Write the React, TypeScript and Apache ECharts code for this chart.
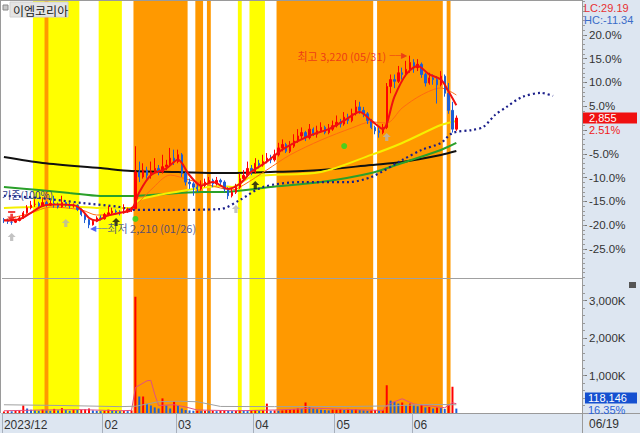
import React, { useEffect, useRef } from "react";
import * as echarts from "echarts";

const TITLE = "이엠코리아";
const LEAD_LABEL = "기준(100%)";
const BASE_PRICE = 2785;
const LOW_PRICE = 2210;
const HIGH_PRICE = 3220;
const LOW_IDX = 22;
const HIGH_IDX = 105;
const VOL_RATIO_TEXT = "16.35%";

const DAYS_BY_MONTH: [string, number[]][] = [
  ["12", [22, 26, 27, 28]],
  ["01", [2, 3, 4, 5, 8, 9, 10, 11, 12, 15, 16, 17, 18, 19, 22, 23, 24, 25, 26, 29, 30, 31]],
  ["02", [1, 2, 5, 6, 7, 8, 13, 14, 15, 16, 19, 20, 21, 22, 23, 26, 27, 28, 29]],
  ["03", [4, 5, 6, 7, 8, 11, 12, 13, 14, 15, 18, 19, 20, 21, 22, 25, 26, 27, 28, 29]],
  ["04", [1, 2, 3, 4, 5, 8, 9, 11, 12, 15, 16, 17, 18, 19, 22, 23, 24, 25, 26, 29, 30]],
  ["05", [2, 3, 7, 8, 9, 10, 13, 14, 16, 17, 20, 21, 22, 23, 24, 27, 28, 29, 30, 31]],
  ["06", [3, 4, 5, 7, 10, 11, 12, 13, 14, 17, 18, 19]],
];
const FUTURE_SLOTS = 32;
const MONTH_LABELS: [number, string][] = [
  [0, "2023/12"], [26, "02"], [45, "03"], [65, "04"], [86, "05"], [106, "06"],
];
const LAST_DATE_LABEL = "06/19";

// [start, end, kind]  0 = yellow, 1 = orange
const BANDS: number[][] = [
  [8, 19, 0], [11, 11, 1], [25, 30, 0], [34, 47, 1], [50, 51, 1], [53, 53, 1],
  [61, 61, 0], [64, 67, 0], [71, 95, 1], [97, 113, 1], [115, 115, 1],
];

// [open, close, low, high]
const CANDLES: number[][] = [
  [2260, 2255, 2240, 2270], [2255, 2250, 2235, 2265], [2245, 2245, 2230, 2260], [2245, 2255, 2240, 2265],
  [2255, 2270, 2250, 2280], [2270, 2300, 2265, 2310], [2300, 2330, 2295, 2345], [2330, 2345, 2320, 2370],
  [2350, 2350, 2335, 2380], [2355, 2340, 2330, 2365], [2340, 2360, 2335, 2390], [2360, 2345, 2335, 2370],
  [2345, 2355, 2340, 2375], [2355, 2350, 2330, 2400], [2350, 2335, 2325, 2360], [2335, 2360, 2330, 2400],
  [2360, 2345, 2335, 2370], [2345, 2340, 2325, 2360], [2340, 2345, 2330, 2355], [2345, 2320, 2310, 2350],
  [2320, 2290, 2280, 2325], [2290, 2260, 2240, 2295], [2260, 2230, 2210, 2265], [2230, 2250, 2225, 2260],
  [2250, 2270, 2245, 2280], [2270, 2265, 2255, 2285], [2265, 2290, 2260, 2300], [2290, 2300, 2280, 2340],
  [2300, 2310, 2290, 2330], [2310, 2305, 2290, 2320], [2305, 2300, 2285, 2315], [2300, 2310, 2295, 2350],
  [2310, 2320, 2300, 2330], [2320, 2325, 2305, 2335], [2325, 2540, 2320, 2690], [2540, 2510, 2480, 2600],
  [2510, 2550, 2500, 2590], [2550, 2520, 2500, 2570], [2520, 2540, 2500, 2600], [2540, 2560, 2530, 2620],
  [2560, 2540, 2520, 2580], [2540, 2570, 2530, 2640], [2570, 2580, 2550, 2610], [2580, 2620, 2570, 2680],
  [2620, 2600, 2580, 2670], [2600, 2640, 2590, 2670], [2640, 2530, 2510, 2650], [2530, 2480, 2460, 2540],
  [2480, 2470, 2440, 2500], [2470, 2450, 2400, 2480], [2450, 2440, 2420, 2470], [2440, 2460, 2430, 2490],
  [2460, 2480, 2450, 2500], [2480, 2490, 2470, 2510], [2490, 2470, 2450, 2500], [2470, 2490, 2460, 2510],
  [2490, 2480, 2460, 2500], [2480, 2440, 2420, 2490], [2440, 2400, 2380, 2450], [2400, 2420, 2390, 2440],
  [2420, 2450, 2410, 2470], [2450, 2500, 2440, 2530], [2500, 2520, 2490, 2550], [2520, 2560, 2510, 2600],
  [2560, 2540, 2520, 2580], [2540, 2590, 2530, 2620], [2590, 2580, 2560, 2610], [2580, 2600, 2570, 2640],
  [2600, 2620, 2590, 2650], [2620, 2610, 2590, 2640], [2610, 2640, 2600, 2670], [2640, 2680, 2630, 2710],
  [2680, 2700, 2660, 2730], [2700, 2660, 2650, 2710], [2660, 2690, 2650, 2720], [2690, 2720, 2680, 2760],
  [2720, 2750, 2710, 2790], [2750, 2770, 2730, 2800], [2770, 2740, 2720, 2780], [2740, 2790, 2730, 2820],
  [2790, 2760, 2750, 2800], [2760, 2780, 2740, 2810], [2780, 2800, 2770, 2830], [2800, 2770, 2760, 2810],
  [2770, 2790, 2760, 2820], [2790, 2810, 2780, 2840], [2810, 2830, 2800, 2870], [2830, 2820, 2800, 2850],
  [2820, 2860, 2810, 2890], [2860, 2840, 2820, 2880], [2840, 2880, 2830, 2910], [2880, 2920, 2870, 2960],
  [2920, 2900, 2880, 2950], [2900, 2880, 2860, 2920], [2880, 2840, 2820, 2890], [2840, 2800, 2790, 2850],
  [2800, 2780, 2760, 2810], [2780, 2770, 2740, 2800], [2770, 2800, 2760, 2820], [2800, 3040, 2790, 3060],
  [3040, 3080, 3000, 3110], [3080, 3070, 3030, 3110], [3070, 3120, 3060, 3160], [3120, 3110, 3080, 3150],
  [3110, 3140, 3100, 3190], [3140, 3180, 3120, 3220], [3180, 3150, 3120, 3200], [3150, 3170, 3130, 3200],
  [3170, 3110, 3090, 3180], [3110, 3060, 3040, 3120], [3060, 3090, 3050, 3120], [3090, 3080, 3050, 3110],
  [3080, 3050, 2940, 3100], [3050, 3100, 3040, 3130], [3100, 3000, 2980, 3110], [3000, 2900, 2880, 3060],
  [2900, 2790, 2770, 2950], [2790, 2855, 2780, 2870],
];

// volume in thousands of shares
const VOLUME_K: number[] = [
  40, 50, 45, 60, 80, 200, 120, 90, 70, 60, 90, 70, 60, 110, 70, 130, 80, 60, 90, 80,
  90, 100, 120, 70, 60, 50, 60, 90, 70, 60, 50, 60, 50, 70, 3100, 440, 440, 250, 200, 150,
  120, 390, 200, 120, 300, 200, 120, 80, 70, 60, 60, 50, 60, 50, 60, 50, 60, 70, 60, 50,
  60, 70, 60, 50, 70, 80, 60, 70, 250, 60, 70, 60, 70, 80, 90, 100, 120, 110, 280, 150,
  120, 100, 90, 80, 70, 90, 90, 100, 80, 110, 90, 100, 80, 70, 60, 70, 80, 60, 70, 740,
  330, 300, 250, 280, 200, 250, 200, 180, 220, 150, 160, 120, 150, 130, 110, 240, 700, 118.146,
];

// moving averages: [slot index, price]
const MA5: number[][] = [
  [0, 2255], [4, 2262], [7, 2300], [10, 2340], [14, 2348], [18, 2345], [20, 2320], [22, 2270], [24, 2255],
  [27, 2285], [30, 2300], [33, 2318], [35, 2420], [38, 2520], [42, 2560], [45, 2610], [48, 2520], [51, 2460],
  [54, 2480], [58, 2440], [61, 2470], [64, 2540], [68, 2600], [72, 2670], [76, 2720], [80, 2760], [84, 2790],
  [88, 2840], [92, 2890], [95, 2840], [98, 2790], [101, 2980], [104, 3110], [107, 3160], [110, 3110],
  [113, 3080], [115, 3010], [117, 2930],
];
const MA10: number[][] = [
  [0, 2258], [7, 2299], [12, 2334], [20, 2317], [24, 2287], [30, 2299], [34, 2346], [38, 2434], [43, 2521],
  [48, 2492], [53, 2463], [59, 2434], [62, 2463], [68, 2551], [74, 2639], [82, 2726], [90, 2797], [95, 2832],
  [99, 2826], [103, 2914], [108, 2990], [113, 3031], [117, 2990],
];
const MA20: number[][] = [
  [0, 2328], [9, 2334], [20, 2334], [25, 2328], [33, 2328], [35, 2375], [40, 2404], [51, 2445], [56, 2457],
  [59, 2451], [64, 2510], [82, 2539], [95, 2639], [103, 2709], [113, 2814], [117, 2838],
];
const MA60: number[][] = [
  [0, 2451], [9, 2434], [17, 2416], [25, 2399], [33, 2399], [38, 2404], [51, 2422], [56, 2422], [69, 2451],
  [82, 2480], [95, 2533], [103, 2592], [113, 2668], [117, 2709],
];
const MA120: number[][] = [
  [0, 2627], [10, 2592], [25, 2562], [33, 2545], [45, 2539], [56, 2533], [69, 2539], [82, 2551], [95, 2580],
  [103, 2598], [113, 2639], [117, 2662],
];
const LEAD_SPAN: number[][] = [
  [0, 2400], [9, 2387], [20, 2358], [30, 2334], [33, 2317], [42, 2317], [56, 2322], [61, 2375], [67, 2451],
  [77, 2480], [89, 2480], [95, 2510], [103, 2609], [108, 2668], [113, 2709], [116, 2767], [121, 2785],
  [124, 2803], [127, 2873], [130, 2920], [134, 2978], [139, 3002], [142, 2984],
];
const VOL_MA5: number[][] = [
  [0, 60], [10, 80], [20, 90], [30, 60], [33, 70], [34, 680], [37, 860], [38, 870], [39, 500], [40, 200],
  [44, 220], [47, 160], [50, 80], [60, 60], [70, 80], [75, 100], [80, 130], [90, 90], [98, 70], [99, 200],
  [100, 260], [103, 380], [106, 240], [110, 190], [114, 140], [116, 270], [117, 250],
];
const VOL_MA20: number[][] = [
  [0, 220], [15, 200], [30, 170], [34, 180], [40, 300], [45, 315], [50, 300], [56, 175], [70, 170], [90, 175],
  [100, 190], [110, 230], [117, 220],
];

// signal markers: [slot index, price]
const GRAY_UP: number[][] = [[2, 2158], [16, 2240], [60, 2322], [99, 2744]];
const BLACK_UP: number[][] = [[29, 2246], [65, 2463]];
const GREEN_DOT: number[][] = [[34, 2264], [88, 2691]];
const RED_DOWN: number[][] = [[2, 2281]];

const UP_RED = "#ff0000";
const DOWN_BLUE = "#1f5fd6";
const BAND_COLORS = ["#ffff00", "#ff9900"];
const PANEL = "#dde6f1";
const NUM_FONT = "'Liberation Sans Narrow', 'Liberation Sans', sans-serif";
const KR_FONT = "'Noto Sans CJK KR', sans-serif";

const fmtInt = (v: number) => Math.round(v).toLocaleString("en-US");

export default function App() {
  const ref = useRef<HTMLDivElement>(null);

  useEffect(() => {
    if (!ref.current) return;
    const chart = echarts.init(ref.current, null, { renderer: "svg" });

    const categories: string[] = [];
    DAYS_BY_MONTH.forEach(([m, days]) => days.forEach((d) => categories.push(m + "/" + String(d).padStart(2, "0"))));
    for (let i = 0; i < FUTURE_SLOTS; i++) categories.push("+" + (i + 1));

    const lastClose = CANDLES[CANDLES.length - 1][1];
    const lastVol = VOLUME_K[VOLUME_K.length - 1];
    const pct = (p: number) => (p / BASE_PRICE - 1) * 100;
    const pMin = BASE_PRICE * (1 - 0.3112);
    const pMax = BASE_PRICE * (1 + 0.2712);
    const majorPct = [-25, -20, -15, -10, -5, 0, 5, 10, 15, 20];
    const labelPct = majorPct.filter((k) => k !== 0);
    const minorPct: number[] = [];
    for (let k = -31; k <= 27; k++) minorPct.push(BASE_PRICE * (1 + k / 100));
    const volMax = 3520;
    const volMinor: number[] = [];
    for (let v = 200; v <= 3400; v += 200) volMinor.push(v);
    const monthIdx = MONTH_LABELS.map((m) => m[0]);
    const monthText: Record<number, string> = {};
    MONTH_LABELS.forEach(([i, t]) => (monthText[i] = t));

    const lc = ((lastClose / LOW_PRICE - 1) * 100).toFixed(2);
    const hc = ((lastClose / HIGH_PRICE - 1) * 100).toFixed(2);

    const line = (name: string, data: number[][], color: string, width: number, z = 4, extra: any = {}) => ({
      name, type: "line", xAxisIndex: 1, yAxisIndex: 1, data, showSymbol: false, smooth: 0.3, z,
      lineStyle: { color, width, ...extra }, silent: true,
    });

    const upArrow = "path://M5 0 L10 5 L7 5 L7 10 L3 10 L3 5 L0 5 Z";
    const downArrow = "path://M1 0 L9 0 L9 2 L1 2 Z M3.5 3 L6.5 3 L6.5 6 L10 6 L5 11 L0 6 L3.5 6 Z";

    const baseGraphic: any[] = [
      { id: "bgR", type: "rect", z: -10, silent: true, shape: { x: 582, y: 0, width: 58, height: 433 }, style: { fill: PANEL } },
      { id: "bgB", type: "rect", z: -10, silent: true, shape: { x: 0, y: 413, width: 582, height: 20 }, style: { fill: PANEL } },
      { id: "bL", type: "line", z: 50, silent: true, shape: { x1: 0.5, y1: 0, x2: 0.5, y2: 413 }, style: { stroke: "#9a9a9a", lineWidth: 1 } },
      { id: "bT", type: "line", z: 50, silent: true, shape: { x1: 0, y1: 0.5, x2: 582, y2: 0.5 }, style: { stroke: "#9a9a9a", lineWidth: 1 } },
      { id: "sep", type: "line", z: 50, silent: true, shape: { x1: 2, y1: 278.5, x2: 582, y2: 278.5 }, style: { stroke: "#a0a0a0", lineWidth: 1 } },
      { id: "bR", type: "line", z: 50, silent: true, shape: { x1: 582.5, y1: 0, x2: 582.5, y2: 433 }, style: { stroke: "#9a9a9a", lineWidth: 1 } },
      { id: "bRB", type: "line", z: 50, silent: true, shape: { x1: 582, y1: 413.5, x2: 640, y2: 413.5 }, style: { stroke: "#9a9a9a", lineWidth: 1 } },
      { id: "ico", type: "rect", z: 50, silent: true, shape: { x: 3, y: 5, width: 5, height: 5 }, style: { fill: "#c8c8c8", stroke: "#888", lineWidth: 1 } },
      { id: "tbox", type: "rect", z: 50, silent: true, shape: { x: 10, y: 2, width: 58, height: 15 }, style: { fill: "#e4e4e4", stroke: "#d0d0d0", lineWidth: 1 } },
      { id: "title", type: "text", z: 51, silent: true, x: 13, y: 10, style: { text: TITLE, fill: "#222", font: "12px " + KR_FONT, verticalAlign: "middle" } },
      { id: "lc", type: "text", z: 51, silent: true, x: 584, y: 8, style: { text: "LC:" + lc, fill: "#e83030", font: "11px " + NUM_FONT, verticalAlign: "middle" } },
      { id: "hc", type: "text", z: 51, silent: true, x: 584, y: 20, style: { text: "HC:" + hc, fill: "#3a6cc8", font: "11px " + NUM_FONT, verticalAlign: "middle" } },
      { id: "date", type: "text", z: 51, silent: true, x: 589, y: 424, style: { text: LAST_DATE_LABEL, fill: "#333", font: "12px " + NUM_FONT, verticalAlign: "middle" } },
      { id: "ico2", type: "rect", z: 51, silent: true, shape: { x: 629, y: 282, width: 7, height: 6 }, style: { fill: "#555" } },
    ];

    const option: any = {
      animation: false,
      backgroundColor: "#ffffff",
      grid: [
        { left: 2, right: 58, top: 1, height: 412 },
        { left: 2, right: 58, top: 1, height: 277 },
        { left: 2, right: 58, top: 281, height: 132 },
      ],
      xAxis: [
        { gridIndex: 0, type: "category", data: categories, show: false },
        { gridIndex: 1, type: "category", data: categories, show: false },
        {
          gridIndex: 2, type: "category", data: categories,
          axisLine: { show: true, lineStyle: { color: "#9a9a9a", width: 1 } },
          axisTick: { show: true, interval: (i: number) => monthIdx.includes(i), length: 20, lineStyle: { color: "#a8b0bc" } },
          axisLabel: {
            interval: (i: number) => monthIdx.includes(i),
            formatter: (_v: string, i: number) => monthText[i] ?? "",
            align: "left", margin: 6, color: "#333", fontSize: 12, fontFamily: NUM_FONT,
          },
        },
      ],
      yAxis: [
        { gridIndex: 0, type: "value", min: 0, max: 1, show: false },
        {
          gridIndex: 1, type: "value", position: "right", min: pMin, max: pMax,
          splitLine: { show: false },
          axisLine: { show: true, lineStyle: { color: "#9a9a9a" } },
          axisTick: { show: true, customValues: majorPct.map((k) => BASE_PRICE * (1 + k / 100)), length: 5, lineStyle: { color: "#777" } },
          axisLabel: {
            customValues: labelPct.map((k) => BASE_PRICE * (1 + k / 100)),
            formatter: (v: number) => pct(v).toFixed(1) + "%",
            margin: 7, color: "#333", fontSize: 11.5, fontFamily: NUM_FONT,
          },
        },
        {
          gridIndex: 1, type: "value", position: "right", min: pMin, max: pMax,
          splitLine: { show: false }, axisLine: { show: false }, axisLabel: { show: false },
          axisTick: { show: true, customValues: minorPct, length: 3, lineStyle: { color: "#999" } },
        },
        {
          gridIndex: 2, type: "value", position: "right", min: 0, max: volMax,
          splitLine: { show: false },
          axisLine: { show: true, lineStyle: { color: "#9a9a9a" } },
          axisTick: { show: true, customValues: [1000, 2000, 3000], length: 5, lineStyle: { color: "#777" } },
          axisLabel: {
            customValues: [1000, 2000, 3000],
            formatter: (v: number) => fmtInt(v) + "K",
            margin: 7, color: "#333", fontSize: 11.5, fontFamily: NUM_FONT,
          },
        },
        {
          gridIndex: 2, type: "value", position: "right", min: 0, max: volMax,
          splitLine: { show: false }, axisLine: { show: false }, axisLabel: { show: false },
          axisTick: { show: true, customValues: volMinor, length: 3, lineStyle: { color: "#999" } },
        },
      ],
      series: [
        {
          name: "bands", type: "custom", xAxisIndex: 0, yAxisIndex: 0, z: 0, silent: true, clip: true,
          data: BANDS,
          encode: { x: [0, 1] },
          renderItem: (params: any, api: any) => {
            const s = api.value(0);
            const e = api.value(1);
            const kind = api.value(2);
            const p0 = api.coord([s, 0]);
            const p1 = api.coord([e, 0]);
            const w = api.size([1, 0])[0];
            const cs = params.coordSys;
            return {
              type: "rect",
              shape: { x: p0[0] - w / 2, y: cs.y, width: p1[0] - p0[0] + w, height: cs.height },
              style: { fill: BAND_COLORS[kind] },
            };
          },
        },
        line("MA120", MA120, "#111111", 2, 3),
        line("MA60", MA60, "#2aa02a", 2, 3),
        line("MA20", MA20, "#f5f000", 2, 3),
        line("MA10", MA10, "#ff6a10", 1, 3),
        line("lead", LEAD_SPAN, "#1b1f8a", 2.2, 3, { type: [2, 3] }),
        {
          name: "price", type: "candlestick", xAxisIndex: 1, yAxisIndex: 1, z: 5,
          barMaxWidth: 3,
          data: CANDLES.map(([o, c, l, h]) => [o, c, l, h]),
          itemStyle: { color: UP_RED, color0: DOWN_BLUE, borderColor: UP_RED, borderColor0: DOWN_BLUE, borderWidth: 1 },
        },
        line("MA5", MA5, "#f01010", 2, 6),
        {
          name: "notes", type: "scatter", xAxisIndex: 1, yAxisIndex: 1, z: 8, symbolSize: 0, silent: true,
          data: [
            {
              value: [HIGH_IDX, HIGH_PRICE],
              label: {
                show: true, position: "left", distance: 3,
                formatter: "{t|최고 " + fmtInt(HIGH_PRICE) + " (05/31)} {a|──▶}",
                rich: {
                  t: { color: "#e8241c", fontSize: 11, fontFamily: KR_FONT },
                  a: { color: "#e8241c", fontSize: 8, fontFamily: NUM_FONT },
                },
              },
            },
            {
              value: [LOW_IDX, LOW_PRICE],
              label: {
                show: true, position: "right", distance: 1,
                formatter: "{a|◀──}{t|최저 " + fmtInt(LOW_PRICE) + " (01/26)}",
                rich: {
                  t: { color: "#2b3a8c", fontSize: 11, fontFamily: KR_FONT },
                  a: { color: "#2040f0", fontSize: 8, fontFamily: NUM_FONT },
                },
              },
            },
          ],
        },
        {
          name: "grayUp", type: "scatter", xAxisIndex: 1, yAxisIndex: 1, z: 7, symbol: upArrow, symbolSize: [8, 8],
          itemStyle: { color: "#b4b4b4" }, data: GRAY_UP, silent: true,
        },
        {
          name: "blackUp", type: "scatter", xAxisIndex: 1, yAxisIndex: 1, z: 7, symbol: upArrow, symbolSize: [8, 8],
          itemStyle: { color: "#111" }, data: BLACK_UP, silent: true,
        },
        {
          name: "greenDot", type: "scatter", xAxisIndex: 1, yAxisIndex: 1, z: 7, symbol: "circle", symbolSize: 6,
          itemStyle: { color: "#22dd22" }, data: GREEN_DOT, silent: true,
        },
        {
          name: "redDown", type: "scatter", xAxisIndex: 1, yAxisIndex: 1, z: 7, symbol: downArrow, symbolSize: [9, 10],
          itemStyle: { color: "#ee1111" }, data: RED_DOWN, silent: true,
        },
        {
          name: "volume", type: "bar", xAxisIndex: 2, yAxisIndex: 3, z: 5, barWidth: 2,
          data: VOLUME_K.map((v, i) => ({
            value: v,
            itemStyle: { color: i > 0 && v < VOLUME_K[i - 1] ? DOWN_BLUE : UP_RED },
          })),
        },
        {
          name: "volMA5", type: "line", xAxisIndex: 2, yAxisIndex: 3, z: 6, data: VOL_MA5, showSymbol: false, silent: true,
          lineStyle: { color: "#e05080", width: 1 },
        },
        {
          name: "volMA20", type: "line", xAxisIndex: 2, yAxisIndex: 3, z: 6, data: VOL_MA20, showSymbol: false, silent: true,
          lineStyle: { color: "#a0a0a0", width: 1 },
        },
      ],
      graphic: baseGraphic,
    };

    chart.setOption(option);

    // value boxes on the right axis, placed through the chart's own scales
    const yP = chart.convertToPixel({ yAxisIndex: 1 } as any, lastClose) as unknown as number;
    const yVraw = chart.convertToPixel({ yAxisIndex: 3 } as any, lastVol) as unknown as number;
    const yV = Math.min(yVraw, 398);
    const yL = chart.convertToPixel({ yAxisIndex: 1 } as any, LEAD_SPAN[0][1]) as unknown as number;
    const extra: any[] = [
      { id: "pBox", type: "rect", z: 60, silent: true, shape: { x: 583, y: yP - 5.5, width: 54, height: 11 }, style: { fill: "#f01010" } },
      { id: "pTxt", type: "text", z: 61, silent: true, x: 589, y: yP, style: { text: fmtInt(lastClose), fill: "#fff", font: "11px " + NUM_FONT, verticalAlign: "middle" } },
      { id: "pPct", type: "text", z: 61, silent: true, x: 589, y: yP + 11.5, style: { text: pct(lastClose).toFixed(2) + "%", fill: "#f02020", font: "11px " + NUM_FONT, verticalAlign: "middle" } },
      { id: "vBox", type: "rect", z: 60, silent: true, shape: { x: 585, y: yV - 5.5, width: 52, height: 11 }, style: { fill: "#1550d0" } },
      { id: "vTxt", type: "text", z: 61, silent: true, x: 588, y: yV, style: { text: fmtInt(lastVol * 1000), fill: "#fff", font: "11px " + NUM_FONT, verticalAlign: "middle" } },
      { id: "vPct", type: "text", z: 61, silent: true, x: 588, y: yV + 11.5, style: { text: VOL_RATIO_TEXT, fill: "#2a62d8", font: "11px " + NUM_FONT, verticalAlign: "middle" } },
      { id: "lead", type: "text", z: 61, silent: true, x: 2, y: yL - 1, style: { text: LEAD_LABEL, fill: "#2b3a8c", font: "10px " + KR_FONT, align: "left", verticalAlign: "middle" } },
    ];
    chart.setOption({ graphic: [...baseGraphic, ...extra] });

    return () => chart.dispose();
  }, []);

  return <div ref={ref} style={{ width: 640, height: 433, position: "absolute", left: 0, top: 0 }} />;
}
